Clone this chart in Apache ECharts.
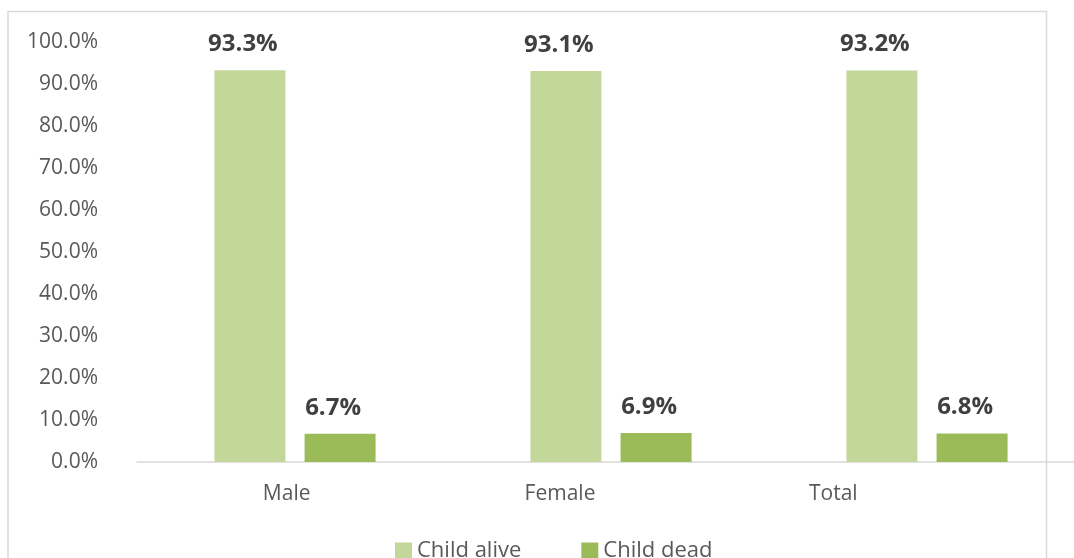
<!DOCTYPE html>
<html>
<head>
<meta charset="utf-8">
<script src="https://cdn.jsdelivr.net/npm/echarts@6/dist/echarts.min.js"></script>
<style>
  html, body { margin: 0; padding: 0; background: #fff; overflow: hidden; }
  /* the plot runs a little past the right edge of the picture */
  #chart { width: 1090px; height: 558px; }
</style>
</head>
<body>
<div id="chart"></div>
<script>
// data
const categories = ['Male', 'Female', 'Total'];
const childAlive = [93.3, 93.1, 93.2];
const childDead = [6.7, 6.9, 6.8];
const yTicks = [0, 10, 20, 30, 40, 50, 60, 70, 80, 90, 100];

const chart = echarts.init(document.getElementById('chart'));

const labelStyle = {
  show: true,
  position: 'top',
  distance: 14,
  offset: [-7, 0],
  fontFamily: 'Open Sans',
  fontWeight: 'bold',
  fontSize: 24,
  color: '#404040',
  formatter: p => p.value.toFixed(1) + '%'
};

chart.setOption({
  animation: false,
  textStyle: { fontFamily: 'Open Sans' },
  // outer chart border
  graphic: [{
    type: 'rect',
    shape: { x: 8, y: 11.5, width: 1038.5, height: 600 },
    style: { fill: 'none', stroke: '#D9D9D9', lineWidth: 1.5 },
    silent: true
  }],
  grid: [
    // plot area
    { left: 137, top: 42, width: 948, height: 420, containLabel: false },
    // the category labels sit on a narrower band than the bars
    { left: 150, top: 42, width: 820, height: 420, containLabel: false }
  ],
  legend: {
    left: 395,
    top: 540,
    padding: 0,
    itemWidth: 17,
    itemHeight: 17,
    itemGap: 60,
    icon: 'rect',
    textStyle: { fontSize: 22, color: '#595959', fontFamily: 'Open Sans' },
    data: ['Child alive', 'Child dead']
  },
  xAxis: [
    {
      type: 'category',
      data: categories,
      axisLine: { lineStyle: { color: '#D9D9D9', width: 1.5 } },
      axisTick: { show: false },
      axisLabel: { show: false }
    },
    {
      type: 'category',
      gridIndex: 1,
      data: categories,
      axisLine: { show: false },
      axisTick: { show: false },
      axisLabel: { fontSize: 21, color: '#595959', margin: 22 }
    }
  ],
  yAxis: [
    {
      type: 'value',
      min: yTicks[0],
      max: yTicks[yTicks.length - 1],
      interval: 10,
      splitLine: { show: false },
      axisLine: { show: false },
      axisTick: { show: false },
      axisLabel: {
        fontSize: 21,
        color: '#595959',
        margin: 39,
        formatter: v => v.toFixed(1) + '%'
      }
    },
    {
      type: 'value',
      gridIndex: 1,
      min: 0,
      max: 100,
      show: false
    }
  ],
  series: [
    {
      name: 'Child alive',
      type: 'bar',
      data: childAlive,
      barWidth: 71,
      barGap: '27%',
      itemStyle: { color: '#C4D79B' },
      label: labelStyle
    },
    {
      name: 'Child dead',
      type: 'bar',
      data: childDead,
      barWidth: 71,
      itemStyle: { color: '#9BBB59' },
      label: labelStyle
    }
  ]
});
</script>
</body>
</html>
